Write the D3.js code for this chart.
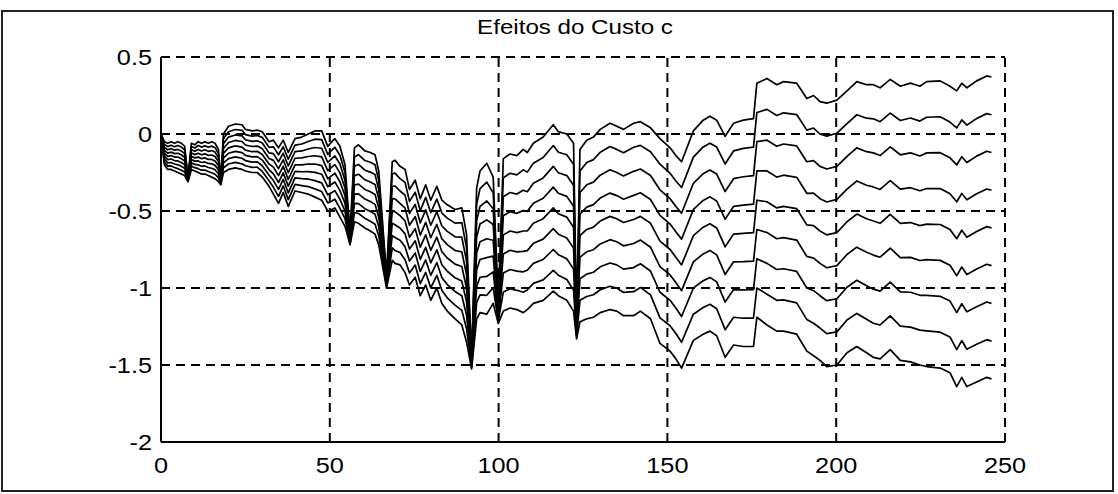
<!DOCTYPE html>
<html>
<head>
<meta charset="utf-8">
<script src="https://cdn.jsdelivr.net/npm/d3@7"></script>
<style>
  body { margin: 0; background: #fff; }
  svg { display: block; }
  text { font-family: "Liberation Sans", Arial, sans-serif; fill: #000; }
</style>
</head>
<body>
<svg width="1118" height="494"></svg>
<script>
// values: the top (c = 0) and bottom curve of the bundle
var days = [0, 1, 2, 3, 4, 5, 6, 7, 8, 9, 10, 11, 12, 13, 14, 15, 16, 17, 17.7, 18.5,
  20, 22, 24, 25, 27, 28.5, 30, 32, 33.3, 34.8, 36.2, 37.7, 39.7, 41.7, 43.6, 45.6, 47.6, 49.4,
  50.6, 51.5, 53, 54.5, 56, 57.3, 58.5, 60.4, 62, 63.4, 64.5, 66.8, 68.5, 69.3, 70.8, 72.3,
  73.6, 75.3, 76.8, 78.4, 79.9, 81.7, 83.2, 84.8, 87.1, 89.1, 90.5, 92, 93.5, 94.5, 96.5, 98.4,
  99.9, 101.4, 103.4, 105.4, 107.3, 108.5, 110.3, 113.2, 116.2, 117.7, 120.2, 122.2, 123.1,
  124.1, 126.1, 128.1, 130.1, 133, 135, 137, 140, 142, 145, 147.8, 150.8, 152.5, 154.2, 157.7,
  160.6, 162.6, 164.6, 167.1, 169.6, 172.5, 175.5, 176.5, 179.5, 182.4, 184.4, 188.3, 191.3,
  193.3, 195.2, 197.2, 200.2, 203.2, 206.1, 209, 211, 213, 216, 219, 222, 224.8, 226.8, 230.8,
  233.7, 235.7, 237.2, 238.7, 241.6, 244.6, 246];

var topCurve = [0, -0.05, -0.06, -0.05, -0.06, -0.05, -0.06, -0.08, -0.28, -0.06, -0.07, -0.05,
  -0.06, -0.05, -0.06, -0.05, -0.06, -0.1, -0.3, 0.0,
  0.05, 0.065, 0.06, 0.03, 0.02, 0.025, 0.015, -0.05, -0.04, -0.09, -0.04, -0.12, -0.03, -0.02,
  0.0, 0.02, 0.02, -0.08,
  -0.05, -0.03, -0.08, -0.2, -0.65, -0.09, -0.07, -0.11, -0.12, -0.135, -0.24, -0.92, -0.18,
  -0.17, -0.21, -0.23,
  -0.36, -0.3, -0.42, -0.33, -0.43, -0.34, -0.43, -0.46, -0.49, -0.48, -0.65, -1.45, -0.35,
  -0.24, -0.19, -0.28,
  -1.1, -0.16, -0.13, -0.14, -0.1, -0.12, -0.06, -0.02, 0.06, 0.015, 0.0, -0.06, -1.2,
  -0.1, -0.04, -0.02, 0.03, 0.07, 0.05, 0.03, 0.07, 0.08, 0.04, -0.03, -0.09, -0.14, -0.18, 0.02,
  0.09, 0.115, 0.09, -0.015, 0.07, 0.09, 0.1, 0.33, 0.36, 0.32, 0.34, 0.33, 0.23,
  0.25, 0.21, 0.2, 0.22, 0.28, 0.34, 0.32, 0.32, 0.3, 0.355, 0.31, 0.33, 0.31, 0.34, 0.345,
  0.31, 0.28, 0.33, 0.3, 0.345, 0.377, 0.37];

var bottomCurve = [0, -0.2, -0.23, -0.23, -0.24, -0.25, -0.26, -0.27, -0.31, -0.23, -0.24, -0.25,
  -0.26, -0.26, -0.27, -0.28, -0.29, -0.31, -0.33, -0.25,
  -0.23, -0.22, -0.23, -0.24, -0.25, -0.25, -0.28, -0.34, -0.39, -0.45, -0.38, -0.47, -0.37,
  -0.38, -0.39, -0.41, -0.43, -0.5,
  -0.49, -0.48, -0.54, -0.6, -0.72, -0.57, -0.58, -0.61, -0.63, -0.65, -0.72, -1.0, -0.82,
  -0.84, -0.85, -0.9,
  -0.98, -0.93, -1.05, -0.98, -1.08, -1.0, -1.1, -1.15, -1.2, -1.24, -1.35, -1.525, -1.2,
  -1.16, -1.17, -1.1,
  -1.23, -1.15, -1.13, -1.14, -1.16, -1.14, -1.1, -1.08, -1.02, -1.05, -1.08, -1.15, -1.33,
  -1.22, -1.2, -1.19, -1.16, -1.14, -1.15, -1.18, -1.18, -1.15, -1.2, -1.36, -1.41, -1.46,
  -1.52, -1.34,
  -1.3, -1.28, -1.31, -1.45, -1.37, -1.38, -1.38, -1.19, -1.24, -1.28, -1.28, -1.3, -1.41,
  -1.44, -1.47, -1.51, -1.5, -1.42, -1.38, -1.42, -1.45, -1.46, -1.4, -1.47, -1.48, -1.5,
  -1.51, -1.52,
  -1.55, -1.64, -1.58, -1.64, -1.61, -1.58, -1.59];

// nine cost levels, drawn evenly between the top and bottom curve
var costLevels = [0, 1, 2, 3, 4, 5, 6, 7, 8];

var xTicks = [0, 50, 100, 150, 200, 250];
var yTicks = [0.5, 0, -0.5, -1, -1.5, -2];
var yTickLabels = ["0.5", "0", "-0.5", "-1", "-1.5", "-2"];
var title = "Efeitos do Custo c";

var svg = d3.select("svg");

// figure frame
svg.append("rect")
    .attr("x", 2).attr("y", 11)
    .attr("width", 1111).attr("height", 480)
    .attr("fill", "none")
    .attr("stroke", "#222")
    .attr("stroke-width", 2);

var x = d3.scaleLinear().domain([0, 250]).range([161, 1005]);
var y = d3.scaleLinear().domain([-2, 0.5]).range([442, 57]);

// dashed grid (also closes the box on top and right)
var grid = svg.append("g")
    .attr("stroke", "#000")
    .attr("stroke-width", 2)
    .attr("stroke-dasharray", "9,6");

grid.selectAll("line.gx")
    .data(xTicks.filter(function(d) { return d > 0; }))
  .enter().append("line")
    .attr("class", "gx")
    .attr("x1", function(d) { return x(d); })
    .attr("x2", function(d) { return x(d); })
    .attr("y1", y(-2)).attr("y2", y(0.5));

grid.selectAll("line.gy")
    .data(yTicks.filter(function(d) { return d > -2; }))
  .enter().append("line")
    .attr("class", "gy")
    .attr("y1", function(d) { return y(d); })
    .attr("y2", function(d) { return y(d); })
    .attr("x1", x(0)).attr("x2", x(250));

// the curves
var line = d3.line()
    .x(function(d) { return x(d[0]); })
    .y(function(d) { return y(d[1]); });

svg.append("g")
    .selectAll("path")
    .data(costLevels)
  .enter().append("path")
    .attr("fill", "none")
    .attr("stroke", "#000")
    .attr("stroke-width", 1.7)
    .attr("stroke-linejoin", "round")
    .attr("d", function(c) {
      var pts = days.map(function(t, i) {
        var top = topCurve[i], bot = bottomCurve[i];
        return [t, top + (bot - top) * c / (costLevels.length - 1)];
      });
      return line(pts);
    });

// solid left and bottom axes
svg.append("line")
    .attr("x1", x(0)).attr("x2", x(0))
    .attr("y1", y(0.5)).attr("y2", y(-2))
    .attr("stroke", "#000").attr("stroke-width", 2);
svg.append("line")
    .attr("x1", x(0)).attr("x2", x(250))
    .attr("y1", y(-2)).attr("y2", y(-2))
    .attr("stroke", "#000").attr("stroke-width", 2);

// tick labels (scan is a bit wider than tall, so stretch the glyphs a little)
svg.selectAll("text.xl")
    .data(xTicks)
  .enter().append("text")
    .attr("class", "xl")
    .attr("text-anchor", "middle")
    .attr("font-size", 22)
    .attr("transform", function(d) { return "translate(" + x(d) + ",473) scale(1.15,1)"; })
    .text(function(d) { return d; });

svg.selectAll("text.yl")
    .data(yTicks)
  .enter().append("text")
    .attr("class", "yl")
    .attr("text-anchor", "end")
    .attr("font-size", 22)
    .attr("transform", function(d) { return "translate(152," + (y(d) + 8) + ") scale(1.15,1)"; })
    .text(function(d, i) { return yTickLabels[i]; });

svg.append("text")
    .attr("text-anchor", "middle")
    .attr("font-size", 21)
    .attr("transform", "translate(575,34) scale(1.15,1)")
    .text(title);
</script>
</body>
</html>
